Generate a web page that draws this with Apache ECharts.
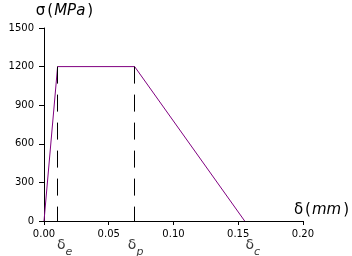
<!DOCTYPE html>
<html><head><meta charset="utf-8">
<script src="https://cdn.jsdelivr.net/npm/echarts@6/dist/echarts.min.js"></script>
<style>html,body{margin:0;padding:0;background:#fff}#c{width:352px;height:256px}</style>
</head><body><div id="c"></div>
<script>
// curve (delta in mm, sigma in MPa)
const strainX = [0, 0.0105, 0.07, 0.155];
const stressY = [0, 1200, 1200, 0];
// characteristic points
const markerSubs = ['e', 'p', 'c'];
const markerX = [0.0105, 0.07, 0.155];
const dashedX = [0.0105, 0.07];
const peakStress = 1200;
// axes
const xMin = 0, xMax = 0.2, xStep = 0.05;
const yMin = 0, yMax = 1500, yStep = 300;

const FONT = 'DejaVu Sans';
const labelOffsets = [[7, 1], [1, 1], [8, 1]];

const chart = echarts.init(document.getElementById('c'), null, {renderer: 'canvas'});
chart.setOption({
  animation: false,
  backgroundColor: '#fff',
  grid: {left: 44, right: 48, top: 28, bottom: 35, containLabel: false},
  xAxis: {
    type: 'value', min: xMin, max: xMax, interval: xStep,
    axisLine: {lineStyle: {color: '#000', width: 1}},
    axisTick: {length: 4, lineStyle: {color: '#000'}},
    splitLine: {show: false},
    axisLabel: {color: '#000', fontFamily: FONT, fontSize: 10, margin: 8,
      formatter: v => v.toFixed(2)},
    name: '{g|δ}{p|(}{i|mm}{p|)}',
    nameLocation: 'end', nameGap: 19,
    nameTextStyle: {align: 'center', verticalAlign: 'bottom', padding: [0, 0, 3, 0],
      rich: {
        g: {fontFamily: FONT, fontSize: 15, color: '#000'},
        p: {fontFamily: FONT, fontSize: 15, color: '#000', padding: [0, 1, 0, 2]},
        i: {fontFamily: FONT, fontSize: 15, fontStyle: 'italic', color: '#000'}
      }}
  },
  yAxis: {
    type: 'value', min: yMin, max: yMax, interval: yStep,
    axisLine: {show: true, lineStyle: {color: '#000', width: 1}},
    axisTick: {show: true, length: 5, lineStyle: {color: '#000'}},
    splitLine: {show: false},
    axisLabel: {color: '#000', fontFamily: FONT, fontSize: 10, margin: 10,
      formatter: v => String(v)},
    name: '{g|σ}{p|(}{i|MPa}{p|)}',
    nameLocation: 'end', nameGap: 9,
    nameTextStyle: {align: 'center', verticalAlign: 'bottom', padding: [0, 0, 0, 42],
      rich: {
        g: {fontFamily: FONT, fontSize: 15, color: '#000'},
        p: {fontFamily: FONT, fontSize: 15, color: '#000', padding: [0, 1, 0, 2]},
        i: {fontFamily: FONT, fontSize: 15, fontStyle: 'italic', color: '#000'}
      }}
  },
  series: [
    {
      type: 'line',
      data: strainX.map((x, i) => [x, stressY[i]]),
      symbol: 'none',
      lineStyle: {color: '#800080', width: 1},
      markLine: {
        silent: true, symbol: ['none', 'none'],
        label: {show: false},
        lineStyle: {color: '#000', width: 1, type: [17, 11]},
        data: dashedX.map(x => [{coord: [x, peakStress]}, {coord: [x, 0]}])
      }
    },
    {
      type: 'scatter',
      symbolSize: 0,
      silent: true,
      data: markerX.map((x, i) => ({
        value: [x, 0],
        label: {offset: labelOffsets[i]},
        sub: markerSubs[i]
      })),
      label: {
        show: true, position: 'bottom', distance: 16,
        formatter: p => '{d|δ}{s|' + p.data.sub + '}',
        rich: {
          d: {fontFamily: FONT, fontSize: 14, color: '#000', verticalAlign: 'top', lineHeight: 14},
          s: {fontFamily: FONT, fontSize: 11, fontStyle: 'italic', color: '#000', verticalAlign: 'bottom', lineHeight: 20}
        }
      }
    }
  ]
});
</script></body></html>
